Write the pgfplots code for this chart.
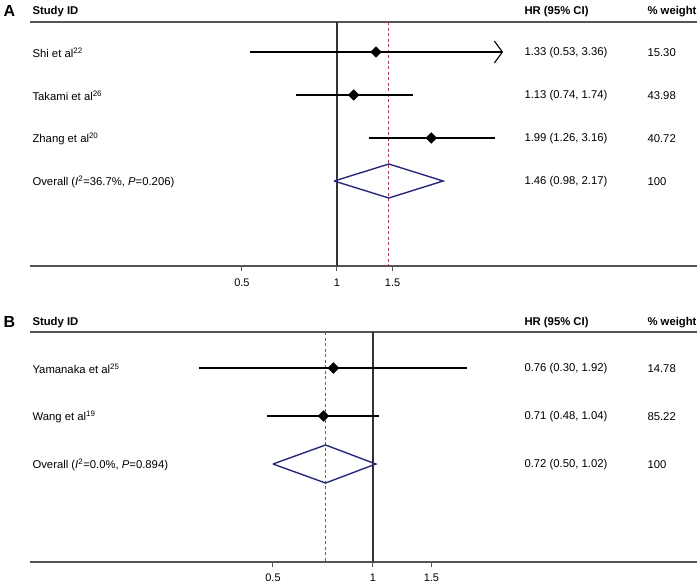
\documentclass[border=0pt]{standalone}
\usepackage{pgfplots}
\pgfplotsset{compat=1.18}
\usepackage{fontspec}
\setmainfont{Liberation Sans}
\usetikzlibrary{arrows.meta}
\definecolor{navy}{RGB}{40,40,125}
\definecolor{refred}{RGB}{175,60,85}
\definecolor{axgray}{RGB}{85,85,85}
\newcommand{\txt}{\fontsize{11.3}{13}\selectfont}
\begin{document}
\begin{tikzpicture}
\path[use as bounding box] (0,0) rectangle (697pt,-582pt);
% ---------------- Panel A ----------------
\node[anchor=west, font=\fontsize{16}{18}\selectfont\bfseries] at (0pt,-11pt) {A};
\node[anchor=west, font=\txt\bfseries] at (29pt,-12pt) {Study ID};
\node[anchor=west, font=\txt\bfseries] at (521pt,-12pt) {HR (95\% CI)};
\node[anchor=west, font=\txt\bfseries] at (644pt,-12pt) {\% weight};
\draw[axgray, line width=1.1pt] (30pt,-22pt) -- (697pt,-22pt);
\node[anchor=west, font=\txt] at (29pt,-53pt) {Shi et al\textsuperscript{22}};
\node[anchor=west, font=\txt] at (29pt,-96pt) {Takami et al\textsuperscript{26}};
\node[anchor=west, font=\txt] at (29pt,-139pt) {Zhang et al\textsuperscript{20}};
\node[anchor=west, font=\txt] at (29pt,-182pt) {Overall (\textit{I}\textsuperscript{2}=36.7\%, \textit{P}=0.206)};
\node[anchor=west, font=\txt] at (521pt,-53pt) {1.33 (0.53, 3.36)};
\node[anchor=west, font=\txt] at (521pt,-96pt) {1.13 (0.74, 1.74)};
\node[anchor=west, font=\txt] at (521pt,-139pt) {1.99 (1.26, 3.16)};
\node[anchor=west, font=\txt] at (521pt,-182pt) {1.46 (0.98, 2.17)};
\node[anchor=west, font=\txt] at (644pt,-53pt) {15.30};
\node[anchor=west, font=\txt] at (644pt,-96pt) {43.98};
\node[anchor=west, font=\txt] at (644pt,-139pt) {40.72};
\node[anchor=west, font=\txt] at (644pt,-182pt) {100};
\begin{axis}[scale only axis, width=667pt, height=244pt,
  at={(30pt,-266pt)}, anchor=south west,
  xmode=log, log basis x=2, y dir=reverse,
  xmin=0.1065, xmax=13.83, ymin=22, ymax=266,
  axis x line*=bottom, axis y line=none,
  axis line style={axgray, line width=1.1pt},
  xtick={0.5,1,1.5}, xticklabels={0.5,1,1.5},
  tick align=outside, major tick length=5pt,
  tick style={axgray, line width=1pt},
  ytick=\empty,
  /pgf/number format/assume math mode=true,
  xticklabel style={font=\fontsize{11}{12}\selectfont, text=black, yshift=-4pt},
  clip=false]
  \addplot[black!80, line width=1.3pt] coordinates {(1,22) (1,266)};
  \addplot[refred, line width=0.9pt, dash pattern=on 3pt off 2.5pt] coordinates {(1.46,22) (1.46,266)};
  \addplot[black, line width=1.2pt, -{Straight Barb[length=8pt,width=22pt,line width=1.1pt]}] coordinates {(0.53,52) (3.36,52)};
  \addplot[black, line width=1.2pt] coordinates {(0.74,95) (1.74,95)};
  \addplot[black, line width=1.2pt] coordinates {(1.26,138) (3.16,138)};
  \addplot[only marks, mark=square*, mark size=3.8pt, mark options={rotate=45, fill=black, draw=black}]
    coordinates {(1.33,52) (1.13,95) (1.99,138)};
  \addplot[navy, line width=1.4pt] coordinates {(0.98,181) (1.46,164) (2.17,181) (1.46,198) (0.98,181)};
\end{axis}
% ---------------- Panel B ----------------
\node[anchor=west, font=\fontsize{16}{18}\selectfont\bfseries] at (0pt,-322pt) {B};
\node[anchor=west, font=\txt\bfseries] at (29pt,-323pt) {Study ID};
\node[anchor=west, font=\txt\bfseries] at (521pt,-323pt) {HR (95\% CI)};
\node[anchor=west, font=\txt\bfseries] at (644pt,-323pt) {\% weight};
\draw[axgray, line width=1.1pt] (30pt,-332pt) -- (697pt,-332pt);
\node[anchor=west, font=\txt] at (29pt,-369pt) {Yamanaka et al\textsuperscript{25}};
\node[anchor=west, font=\txt] at (29pt,-417pt) {Wang et al\textsuperscript{19}};
\node[anchor=west, font=\txt] at (29pt,-465pt) {Overall (\textit{I}\textsuperscript{2}=0.0\%, \textit{P}=0.894)};
\node[anchor=west, font=\txt] at (521pt,-369pt) {0.76 (0.30, 1.92)};
\node[anchor=west, font=\txt] at (521pt,-417pt) {0.71 (0.48, 1.04)};
\node[anchor=west, font=\txt] at (521pt,-465pt) {0.72 (0.50, 1.02)};
\node[anchor=west, font=\txt] at (644pt,-369pt) {14.78};
\node[anchor=west, font=\txt] at (644pt,-417pt) {85.22};
\node[anchor=west, font=\txt] at (644pt,-465pt) {100};
\begin{axis}[scale only axis, width=667pt, height=230pt,
  at={(30pt,-562pt)}, anchor=south west,
  xmode=log, log basis x=2, y dir=reverse,
  xmin=0.0928, xmax=9.45, ymin=332, ymax=562,
  axis x line*=bottom, axis y line=none,
  axis line style={axgray, line width=1.1pt},
  xtick={0.5,1,1.5}, xticklabels={0.5,1,1.5},
  tick align=outside, major tick length=5pt,
  tick style={axgray, line width=1pt},
  ytick=\empty,
  /pgf/number format/assume math mode=true,
  xticklabel style={font=\fontsize{11}{12}\selectfont, text=black, yshift=-3pt},
  clip=false]
  \addplot[black!80, line width=1.3pt] coordinates {(1,332) (1,562)};
  \addplot[refred, line width=0.9pt, dash pattern=on 3pt off 2.5pt] coordinates {(0.72,332) (0.72,562)};
  \addplot[black, line width=1.2pt] coordinates {(0.30,368) (1.92,368)};
  \addplot[black, line width=1.2pt] coordinates {(0.48,416) (1.04,416)};
  \addplot[only marks, mark=square*, mark size=3.8pt, mark options={rotate=45, fill=black, draw=black}]
    coordinates {(0.76,368) (0.71,416)};
  \addplot[navy, line width=1.4pt] coordinates {(0.50,464) (0.72,445) (1.02,464) (0.72,483) (0.50,464)};
\end{axis}
\end{tikzpicture}
\end{document}
